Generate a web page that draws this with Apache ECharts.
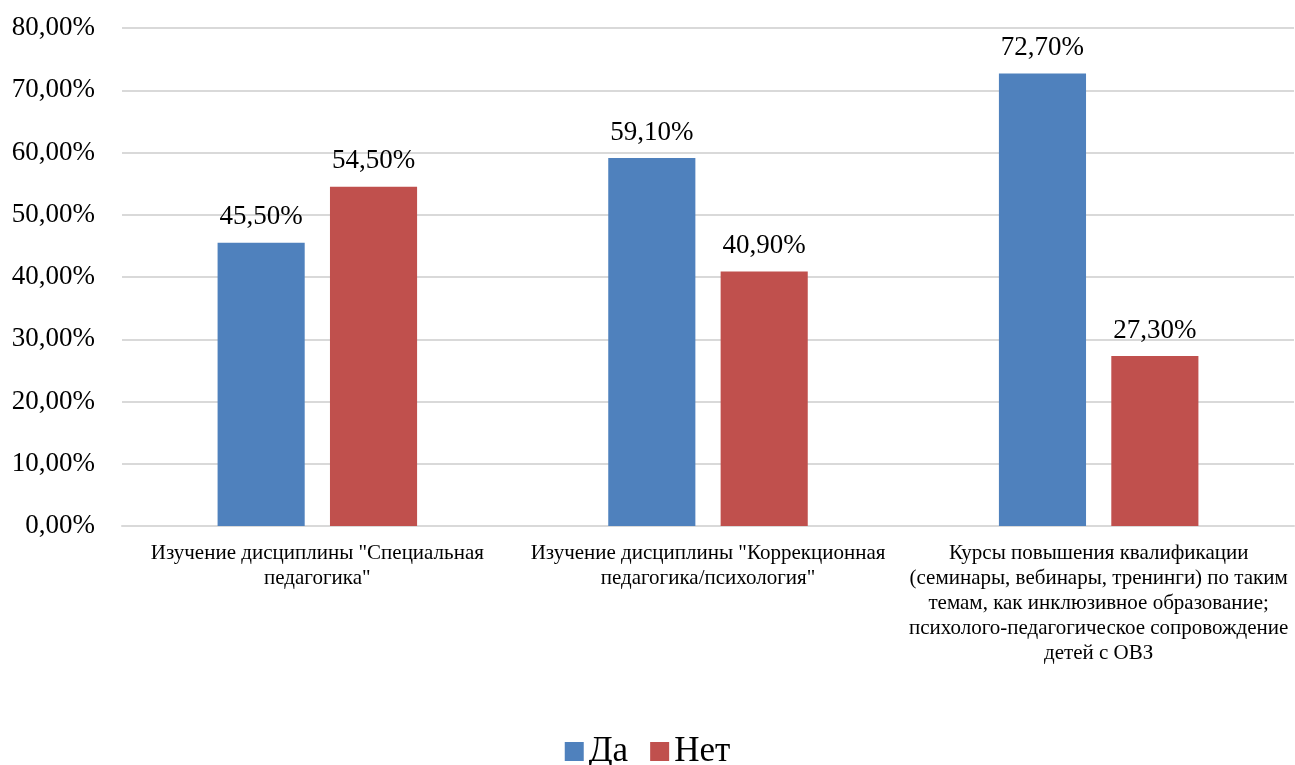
<!DOCTYPE html>
<html>
<head>
<meta charset="utf-8">
<script src="https://cdn.jsdelivr.net/npm/echarts@6/dist/echarts.min.js"></script>
<style>
html,body{margin:0;padding:0;background:#fff;}
#chart{width:1295px;height:765px;}
</style>
</head>
<body>
<div id="chart"></div>
<script>
const categories = [
  'Изучение дисциплины "Специальная\nпедагогика"',
  'Изучение дисциплины "Коррекционная\nпедагогика/психология"',
  'Курсы повышения квалификации\n(семинары, вебинары, тренинги) по таким\nтемам, как инклюзивное образование;\nпсихолого-педагогическое сопровождение\nдетей с ОВЗ'
];
const seriesNames = ['Да', 'Нет'];
const valuesDa = [45.5, 59.1, 72.7];
const valuesNet = [54.5, 40.9, 27.3];
const yTicks = { min: 0, max: 80, interval: 10 };

const fmt = v => v.toFixed(2).replace('.', ',') + '%';
const serif = '"Liberation Serif", "Times New Roman", serif';

const chart = echarts.init(document.getElementById('chart'));
chart.setOption({
  animation: false,
  color: ['#4F81BD', '#C0504D'],
  grid: { left: 122, right: 1, top: 28, bottom: 239, containLabel: false },
  legend: {
    data: seriesNames,
    top: 729,
    left: 'center',
    itemWidth: 19,
    itemHeight: 19,
    itemGap: 22,
    icon: 'rect',
    textStyle: { fontFamily: serif, fontSize: 35, color: '#000' }
  },
  xAxis: {
    type: 'category',
    data: categories,
    axisLine: { lineStyle: { color: '#D9D9D9', width: 2 } },
    axisTick: { show: false },
    axisLabel: {
      interval: 0,
      fontFamily: serif,
      fontSize: 21,
      lineHeight: 25,
      color: '#000',
      margin: 15
    }
  },
  yAxis: {
    type: 'value',
    min: yTicks.min,
    max: yTicks.max,
    interval: yTicks.interval,
    axisLine: { show: false },
    axisTick: { show: false },
    splitLine: { lineStyle: { color: '#D9D9D9', width: 2 } },
    axisLabel: {
      fontFamily: serif,
      fontSize: 27,
      color: '#000',
      margin: 27,
      formatter: v => v.toFixed(2).replace('.', ',') + '%'
    }
  },
  series: [
    {
      name: seriesNames[0],
      type: 'bar',
      data: valuesDa,
      barWidth: '22.3%',
      barGap: '29%',
      label: {
        show: true, position: 'top', distance: 12,
        fontFamily: serif, fontSize: 27, color: '#000',
        formatter: p => fmt(p.value)
      }
    },
    {
      name: seriesNames[1],
      type: 'bar',
      data: valuesNet,
      barWidth: '22.3%',
      barGap: '29%',
      label: {
        show: true, position: 'top', distance: 12,
        fontFamily: serif, fontSize: 27, color: '#000',
        formatter: p => fmt(p.value)
      }
    }
  ]
});
</script>
</body>
</html>
